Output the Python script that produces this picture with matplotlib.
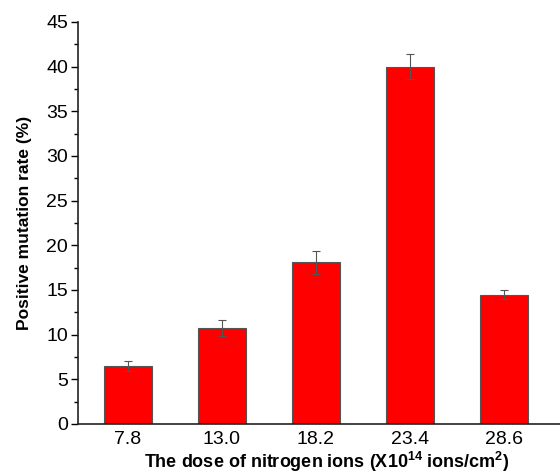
import numpy as np
import matplotlib
matplotlib.use("Agg")
import matplotlib.pyplot as plt
from matplotlib.ticker import MultipleLocator

plt.rcParams['font.family'] = ['Liberation Sans', 'DejaVu Sans']
plt.rcParams['mathtext.fontset'] = 'custom'
plt.rcParams['mathtext.rm'] = 'Liberation Sans'
plt.rcParams['mathtext.bf'] = 'Liberation Sans:bold'

doses = ["7.8", "13.0", "18.2", "23.4", "28.6"]
rates = [6.5, 10.7, 18.1, 40.0, 14.45]
errors = [0.6, 0.9, 1.3, 1.4, 0.5]

fig = plt.figure(figsize=(5.6, 4.73), dpi=100)
ax = fig.add_axes([0.139, 0.1036, 0.861, 0.85])

x = np.arange(len(doses))
ax.bar(x, rates, width=0.51, color="#ff0000", edgecolor="#555555", linewidth=0.8,
       yerr=errors, error_kw=dict(ecolor="#555555", elinewidth=0.8, capsize=3, capthick=0.8))

ax.set_xlim(-0.534, 4.6)
ax.set_ylim(0, 45)
ax.set_xticks(x)
ax.set_xticklabels(doses)
ax.yaxis.set_major_locator(MultipleLocator(5))
ax.yaxis.set_minor_locator(MultipleLocator(2.5))
ax.tick_params(axis="y", which="major", length=5, width=1, labelsize=14, pad=2, direction="out")
ax.tick_params(axis="y", which="minor", length=3, width=1, direction="out")
ax.tick_params(axis="x", length=0, labelsize=14, pad=5)

for side in ["top", "right"]:
    ax.spines[side].set_visible(False)
for side in ["left", "bottom"]:
    ax.spines[side].set_linewidth(1.2)
    ax.spines[side].set_color("#222222")

ax.set_ylabel("Positive mutation rate (%)", fontsize=12.5, fontweight="bold", labelpad=10)
ax.set_xlabel(r"The dose of nitrogen ions (X10$^{\mathbf{14}}$ ions/cm$^{\mathbf{2}}$)",
              fontsize=13, fontweight="bold")
ax.xaxis.set_label_coords(0.517, -0.064)

fig.savefig("out.png", dpi=100)
